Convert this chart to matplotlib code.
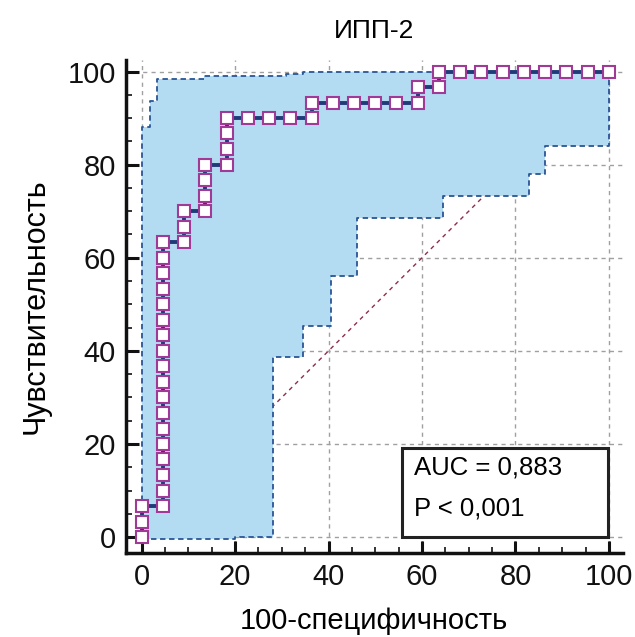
import numpy as np
import matplotlib.pyplot as plt
from matplotlib.patches import Rectangle

plt.rcParams['font.family'] = ['Liberation Sans', 'DejaVu Sans']

# ROC-кривая: 100-специфичность (x) и чувствительность (y), %
fpr = [0, 0, 0,
       4.5, 4.5, 4.5, 4.5, 4.5, 4.5, 4.5, 4.5, 4.5, 4.5, 4.5, 4.5, 4.5, 4.5, 4.5, 4.5, 4.5, 4.5,
       9.1, 9.1, 9.1,
       13.6, 13.6, 13.6, 13.6,
       18.2, 18.2, 18.2, 18.2,
       22.7, 27.3, 31.8, 36.4, 36.4,
       40.9, 45.5, 50.0, 54.5, 59.1, 59.1,
       63.6, 63.6, 68.2, 72.7, 77.3, 81.8, 86.4, 90.9, 95.5, 100]
tpr = [0, 3.3, 6.7,
       6.7, 10, 13.3, 16.7, 20, 23.3, 26.7, 30, 33.3, 36.7, 40, 43.3, 46.7, 50, 53.3, 56.7, 60, 63.3,
       63.3, 66.7, 70,
       70, 73.3, 76.7, 80,
       80, 83.3, 86.7, 90,
       90, 90, 90, 90, 93.3,
       93.3, 93.3, 93.3, 93.3, 93.3, 96.7,
       96.7, 100, 100, 100, 100, 100, 100, 100, 100, 100]

# 95% доверительный интервал (ступенчатые границы)
up_x = [0, 0, 1.8, 1.8, 3.3, 3.3, 13.3, 13.3, 31, 31, 34.5, 34.5, 63.6, 63.6, 100]
up_y = [0, 88.0, 88.0, 93.7, 93.7, 98.5, 98.5, 99.0, 99.0, 99.4, 99.4, 99.8, 99.8, 100, 100]
lo_x = [0, 20, 20, 28.2, 28.2, 34.6, 34.6, 40.5, 40.5, 46, 46, 64.6, 64.6, 83, 83, 86.4, 86.4, 100, 100]
lo_y = [-0.4, -0.4, 0, 0, 38.6, 38.6, 45.4, 45.4, 56.1, 56.1, 68.5, 68.5, 73.2, 73.2, 78, 78, 84.1, 84.1, 100]

auc_lines = ['AUC = 0,883', 'P < 0,001']

fig = plt.figure(figsize=(6.35, 6.37), dpi=100)
ax = fig.add_axes([0.198, 0.132, 0.783, 0.774])

ax.set_xlim(-3.4, 103)
ax.set_ylim(-3.4, 102.5)

# сетка
ax.set_xticks(np.arange(0, 101, 20))
ax.set_yticks(np.arange(0, 101, 20))
ax.set_xticks(np.arange(0, 101, 5), minor=True)
ax.set_yticks(np.arange(0, 101, 5), minor=True)
ax.grid(True, which='major', color='#a0a0a0', linestyle=(0, (3, 3)), linewidth=1.0, zorder=0)
ax.set_axisbelow(True)

# диагональ
ax.plot([0, 100], [0, 100], color='#8b3048', linestyle=(0, (3, 3)), linewidth=1.0, zorder=1)

# заливка ДИ
poly_x = up_x + lo_x[::-1]
poly_y = up_y + lo_y[::-1]
ax.fill(poly_x, poly_y, color='#b3dbf2', linewidth=0, zorder=2)
ax.plot(up_x, up_y, color='#2a5594', linestyle=(0, (3, 2)), linewidth=1.3, zorder=3)
ax.plot(lo_x, lo_y, color='#2a5594', linestyle=(0, (3, 2)), linewidth=1.3, zorder=3)

# ROC
ax.plot(fpr, tpr, color='#1f3c78', linewidth=2.8, zorder=4)
ax.plot(fpr, tpr, linestyle='none', marker='s', markersize=8.2,
        markerfacecolor='white', markeredgecolor='#a03a96', markeredgewidth=1.5, zorder=5)

# подпись AUC
ax.add_patch(Rectangle((55.7, 0), 44.2, 19.1, facecolor='white', edgecolor='#222222',
                       linewidth=2.2, zorder=6))
ax.text(58.2, 14.9, auc_lines[0], fontsize=18.5, va='center', ha='left', zorder=7)
ax.text(58.2, 6.2, auc_lines[1], fontsize=18.5, va='center', ha='left', zorder=7)

for s in ['top', 'right']:
    ax.spines[s].set_visible(False)
for s in ['left', 'bottom']:
    ax.spines[s].set_linewidth(2.5)
    ax.spines[s].set_color('#111111')

ax.tick_params(which='major', direction='in', length=9, width=2.2, labelsize=21, pad=7, colors='#111111')
ax.tick_params(which='minor', direction='in', length=4.5, width=1.2, colors='#111111')

ax.set_title('ИПП-2', fontsize=19, pad=16)
ax.set_xlabel('100-специфичность', fontsize=21, labelpad=12)
ax.set_ylabel('Чувствительность', fontsize=22, labelpad=12)

fig.savefig('out.png', dpi=100)
